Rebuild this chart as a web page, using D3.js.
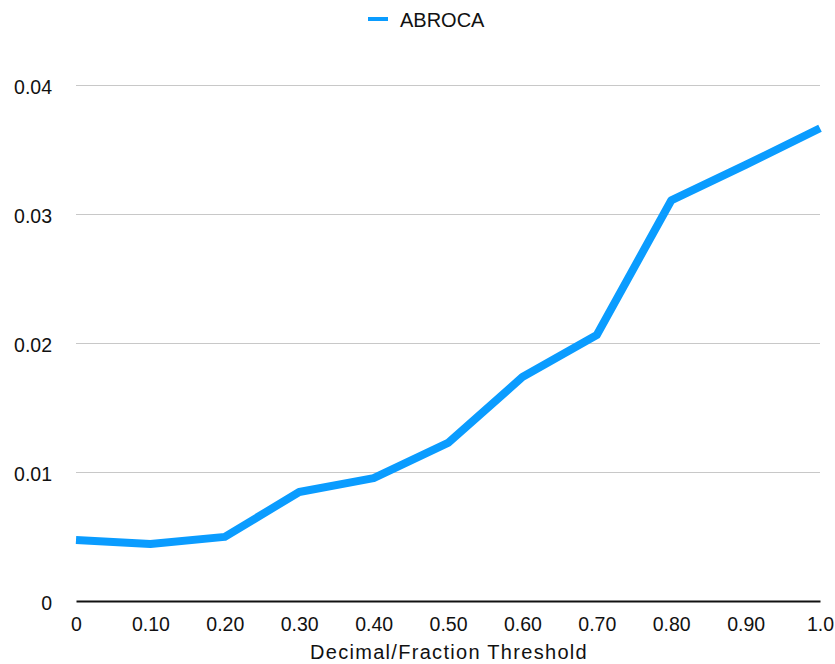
<!DOCTYPE html>
<html><head><meta charset="utf-8">
<script src="https://cdn.jsdelivr.net/npm/d3@7"></script>
<style>body{margin:0;background:#fff}svg{display:block;font-family:"Liberation Sans",Arial,Helvetica,sans-serif}</style>
</head><body><svg id="c" width="835" height="664"></svg>
<script>
const thresholds = [0, 0.1, 0.2, 0.3, 0.4, 0.5, 0.6, 0.7, 0.8, 0.9, 1.0];
const xTickLabels = ["0", "0.10", "0.20", "0.30", "0.40", "0.50", "0.60", "0.70", "0.80", "0.90", "1.0"];
const abroca = [0.00473, 0.00442, 0.00497, 0.00845, 0.00953, 0.01225, 0.01736, 0.02062, 0.03105, 0.0338, 0.03665];
const yTicks = [0, 0.01, 0.02, 0.03, 0.04];
const yTickLabels = ["0", "0.01", "0.02", "0.03", "0.04"];
const seriesName = "ABROCA";

const svg = d3.select("#c");
const m = {l: 76, r: 15, t: 85, b: 63};
const W = 835, H = 664;
const x = d3.scaleLinear().domain([0, 1]).range([m.l, W - m.r]);
const y = d3.scaleLinear().domain([0, 0.04]).range([H - m.b, m.t]);
const color = "#0a9cff";
const FS = 19.5;

// gridlines
svg.append("g").selectAll("line").data(yTicks.filter(d => d > 0)).join("line")
  .attr("x1", x(0)).attr("x2", x(1)).attr("y1", d => y(d)).attr("y2", d => y(d))
  .attr("stroke", "#c8c8c8").attr("stroke-width", 1).attr("shape-rendering", "crispEdges");

// y axis labels
const ya = d3.axisLeft(y).tickValues(yTicks).tickFormat((d, i) => yTickLabels[i]).tickSize(0).tickPadding(24);
const gy = svg.append("g").attr("transform", `translate(${m.l},0)`).call(ya);
gy.select(".domain").remove();
gy.selectAll("text").attr("font-size", FS).attr("dy", "0.42em").attr("fill", "#111").attr("font-family", "Liberation Sans, Arial, sans-serif");

// x axis
const xa = d3.axisBottom(x).tickValues(thresholds).tickFormat((d, i) => xTickLabels[i]).tickSize(0).tickPadding(16);
const gx = svg.append("g").attr("transform", `translate(0,${y(0)})`).call(xa);
gx.select(".domain").attr("stroke", "#111").attr("stroke-width", 2);
gx.selectAll("text").attr("font-size", FS).attr("fill", "#111").attr("font-family", "Liberation Sans, Arial, sans-serif");

// axis title
svg.append("text").attr("x", (x(0) + x(1)) / 2 + 1).attr("y", 659).attr("text-anchor", "middle")
  .attr("font-size", 20).attr("letter-spacing", 1.3).attr("fill", "#111").text("Decimal/Fraction Threshold");

// line
const line = d3.line().x((d, i) => x(thresholds[i])).y(d => y(d));
svg.append("path").datum(abroca).attr("d", line).attr("fill", "none")
  .attr("stroke", color).attr("stroke-width", 8).attr("stroke-linejoin", "round").attr("stroke-linecap", "butt");

// legend
svg.append("line").attr("x1", 368).attr("x2", 388).attr("y1", 19).attr("y2", 19)
  .attr("stroke", color).attr("stroke-width", 4);
svg.append("text").attr("x", 400).attr("y", 27).attr("font-size", 20).attr("fill", "#111").text(seriesName);
</script></body></html>
